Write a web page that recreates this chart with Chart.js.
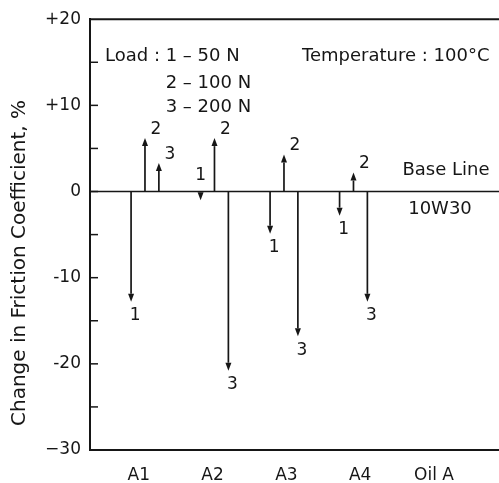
<!DOCTYPE html>
<html>
<head>
<meta charset="utf-8">
<script src="https://cdn.jsdelivr.net/npm/chart.js@4/dist/chart.umd.min.js"></script>
<style>
  html, body { margin: 0; padding: 0; background: #fff; overflow: hidden; }
</style>
</head>
<body>
<canvas id="chart" width="520" height="483"></canvas>
<script>
// data (change in friction coefficient, %)
const categories = ['A1', 'A2', 'A3', 'A4', 'Oil A'];
const loadNames = ['1', '2', '3'];
const load1 = [-12.8, -1.0, -4.9, -2.8];   // 50 N
const load2 = [6.2, 6.2, 4.3, 2.2];        // 100 N
const load3 = [3.3, -20.8, -16.8, -12.8];  // 200 N
const yTickValues = [-30, -20, -10, 0, 10, 20];
const yTickLabels = ['\u221230', '-20', '-10', '0', '+10', '+20'];

const INK = '#161616';
const FONT = '"DejaVu Sans", sans-serif';
const groupOffset = [-0.2, 0, 0.2];

const series = [load1, load2, load3];
const datasets = series.map((vals, k) => ({
  label: loadNames[k],
  data: vals.map((v, i) => ({ x: i + groupOffset[k], y: v })),
  xAxisID: 'x',
  yAxisID: 'y',
  pointRadius: 0,
  showLine: false
}));

const arrowPlugin = {
  id: 'arrows',
  afterDatasetsDraw(chart) {
    const { ctx, chartArea } = chart;
    const yScale = chart.scales.y;
    const y0 = yScale.getPixelForValue(0);
    ctx.save();
    ctx.strokeStyle = INK;
    ctx.fillStyle = INK;

    // base line
    ctx.lineWidth = 1.6;
    ctx.beginPath();
    ctx.moveTo(chartArea.left, y0);
    ctx.lineTo(chartArea.right, y0);
    ctx.stroke();

    ctx.font = '17px ' + FONT;
    ctx.textAlign = 'center';
    ctx.textBaseline = 'middle';
    chart.data.datasets.forEach((ds, di) => {
      chart.getDatasetMeta(di).data.forEach((pt, i) => {
        const x = pt.x, y = pt.y;
        const dir = y < y0 ? -1 : 1;
        const head = 8;
        const len = Math.abs(y - y0);
        const h = Math.min(head, len + 6);
        ctx.lineWidth = 1.7;
        ctx.beginPath();
        ctx.moveTo(x, y0);
        ctx.lineTo(x, y - dir * h);
        ctx.stroke();
        ctx.beginPath();
        ctx.moveTo(x, y);
        ctx.lineTo(x - 3, y - dir * h);
        ctx.lineTo(x + 3, y - dir * h);
        ctx.closePath();
        ctx.fill();

        const v = ds.data[i].y;
        let lx, ly;
        if (Math.abs(v) < 1.5) { lx = x; ly = y0 - 16; }
        else if (dir < 0) { lx = x + 11; ly = y - 9; }
        else { lx = x + 4; ly = y + 14; }
        ctx.fillText(ds.label, lx, ly);
      });
    });
    ctx.restore();
  },
  afterDraw(chart) {
    const { ctx, chartArea } = chart;
    const yScale = chart.scales.y;
    const xl = chart.scales.xl;
    const y0 = yScale.getPixelForValue(0);
    ctx.save();
    ctx.strokeStyle = INK;
    ctx.fillStyle = INK;

    // top frame line
    ctx.lineWidth = 2;
    ctx.beginPath();
    ctx.moveTo(chartArea.left, chartArea.top);
    ctx.lineTo(chartArea.right, chartArea.top);
    ctx.stroke();

    // inward tick marks every 5
    ctx.lineWidth = 1.5;
    yScale.ticks.forEach(t => {
      const py = yScale.getPixelForValue(t.value);
      if (py <= chartArea.top + 1 || py >= chartArea.bottom - 1) return;
      ctx.beginPath();
      ctx.moveTo(chartArea.left, py);
      ctx.lineTo(chartArea.left + 8, py);
      ctx.stroke();
    });

    // legend texts
    ctx.font = '18px ' + FONT;
    ctx.textBaseline = 'middle';
    ctx.textAlign = 'left';
    const lx = chartArea.left + 15;
    ctx.fillText('Load : 1 \u2013 50 N', lx, chartArea.top + 37);
    const indent = lx + ctx.measureText('Load : ').width;
    ctx.fillText('2 \u2013 100 N', indent, chartArea.top + 64);
    ctx.fillText('3 \u2013 200 N', indent, chartArea.top + 88);
    ctx.fillText('Temperature : 100\u00b0C', chartArea.left + 212, chartArea.top + 37);

    ctx.textAlign = 'center';
    const bx = xl.getPixelForValue(4) + 12;
    ctx.fillText('Base Line', bx, y0 - 21);
    ctx.fillText('10W30', bx - 6, y0 + 18);

    // y axis title
    ctx.font = '20px ' + FONT;
    ctx.translate(20, 263);
    ctx.rotate(-Math.PI / 2);
    ctx.fillText('Change in Friction Coefficient, %', 0, 0);
    ctx.restore();
  }
};

new Chart(document.getElementById('chart'), {
  type: 'scatter',
  data: { datasets },
  options: {
    responsive: false,
    animation: false,
    layout: { padding: { top: 15, left: 0, right: 0, bottom: 0 } },
    plugins: { legend: { display: false }, tooltip: { enabled: false } },
    scales: {
      x: {
        type: 'linear',
        display: false,
        min: -0.791,
        max: 5.396
      },
      xl: {
        type: 'linear',
        position: 'bottom',
        min: -0.661,
        max: 5.165,
        afterBuildTicks: (scale) => { scale.ticks = categories.map((c, i) => ({ value: i })); },
        afterFit: (scale) => { scale.height = 33; },
        grid: { display: false, drawTicks: false },
        border: { display: true, color: INK, width: 2 },
        ticks: {
          padding: 15,
          color: INK,
          font: { family: FONT, size: 17 },
          callback: (v) => categories[v]
        }
      },
      y: {
        type: 'linear',
        min: -30,
        max: 20,
        afterFit: (scale) => { scale.width = 90; },
        grid: { display: false, drawTicks: false },
        border: { display: true, color: INK, width: 2 },
        ticks: {
          stepSize: 5,
          padding: 9,
          color: INK,
          font: { family: FONT, size: 17 },
          callback: (v) => {
            const k = yTickValues.indexOf(v);
            return k >= 0 ? yTickLabels[k] : '';
          }
        }
      }
    }
  },
  plugins: [arrowPlugin]
});
</script>
</body>
</html>
